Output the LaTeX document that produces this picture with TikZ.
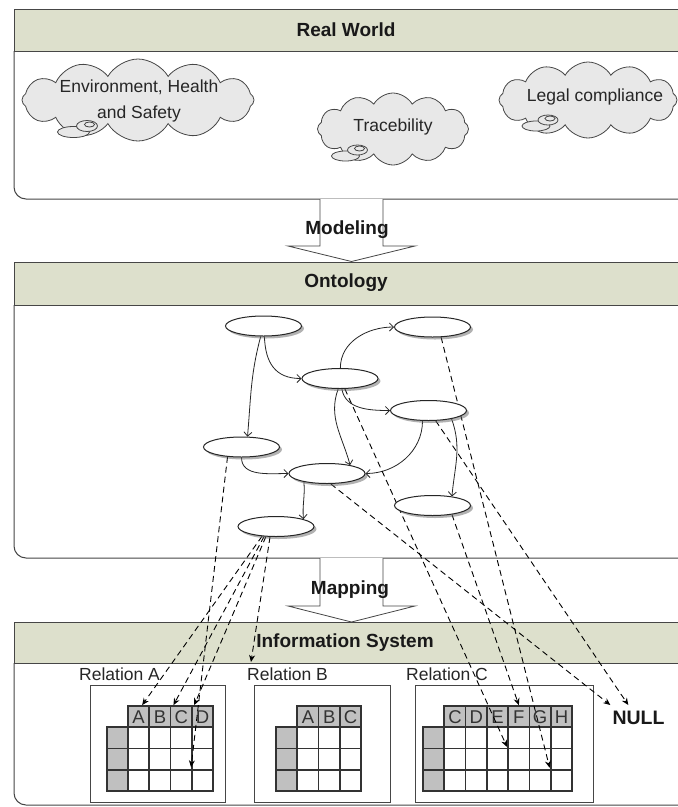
\documentclass[tikz,border=0pt]{standalone}
\usepackage{fontspec}
\setmainfont{Liberation Sans}
\usetikzlibrary{shapes.geometric,shapes.symbols,arrows.meta,shadows}
\definecolor{hdrfill}{RGB}{221,224,204}
\definecolor{frame}{RGB}{70,70,70}
\definecolor{cloudfill}{RGB}{232,232,232}
\definecolor{cellgray}{RGB}{192,192,192}
\pgfdeclarelayer{back}
\pgfdeclarelayer{mid}
\pgfsetlayers{back,mid,main}

\begin{document}
\begin{tikzpicture}[x=1pt,y=-1pt,
  hdr/.style={draw=frame, line width=1pt, fill=hdrfill},
  hdrtext/.style={font=\fontsize{19}{22}\selectfont\bfseries, text=black!90, inner sep=0pt},
  body/.style={draw=frame, line width=1pt, rounded corners=12pt},
  bigarrow/.style={draw=frame, line width=0.8pt, fill=white},
  cloudbox/.style={cloud, cloud puffs=12, cloud puff arc=120, cloud ignores aspect, draw=frame, line width=0.8pt, fill=cloudfill, inner sep=0pt},
  bubble/.style={ellipse, draw=frame, line width=0.8pt, fill=cloudfill, inner sep=0pt},
  txt/.style={font=\fontsize{17.5}{26}\selectfont, text=black!85, inner sep=0pt},
  concept/.style={ellipse, draw=black!85, line width=1pt, fill=white, minimum width=76pt, minimum height=20pt, inner sep=0pt,
    drop shadow={shadow xshift=2.5pt, shadow yshift=-2.5pt, fill=black!60, opacity=.5}},
  rel/.style={draw=black!85, line width=0.8pt, -{Straight Barb[length=4pt,width=8pt]}},
  maps/.style={draw=black, line width=0.9pt, dash pattern=on 6pt off 4pt, -{Stealth[length=7pt,width=6pt]}},
  relbox/.style={draw=frame, line width=1pt, fill=white},
  hcell/.style={draw=black!80, line width=1.7pt, fill=cellgray, minimum size=21.3pt, inner sep=0pt, font=\fontsize{18.5}{20}\selectfont, text=black!80},
  wcell/.style={draw=black!80, line width=1.7pt, fill=white, minimum size=21.3pt, inner sep=0pt},
  gcell/.style={draw=black!80, line width=1.7pt, fill=cellgray, minimum size=21.3pt, inner sep=0pt},
]
\useasboundingbox (0,0) rectangle (678,807);

\begin{pgfonlayer}{back}
  \fill[white] (0,0) rectangle (678,807);

  % Real World panel
  \path[hdr] (14,9) rectangle (692,51);
  \node[hdrtext] (rwTitle) at (346,30) {Real World};
  \draw[body] (14,51) -- (14,199) -- (692,199);

  % clouds
  \node[cloudbox, minimum width=232pt, minimum height=82pt] (cEHS) at (138,100) {};
  \node[bubble, minimum width=32pt, minimum height=11pt] (cEHSa) at (73.5,132) {};
  \node[bubble, minimum width=21pt, minimum height=11pt] (cEHSb) at (87,126) {};
  \node[bubble, minimum width=10pt, minimum height=5pt] (cEHSc) at (89.5,124.5) {};
  \node[txt, align=center] (tEHS) at (139,101) {Environment, Health\\and Safety};

  \node[cloudbox, minimum width=151pt, minimum height=72pt] (cTr) at (393,129) {};
  \node[bubble, minimum width=28pt, minimum height=10pt] (cTra) at (345.5,156) {};
  \node[bubble, minimum width=20pt, minimum height=10pt] (cTrb) at (357.5,150) {};
  \node[bubble, minimum width=10pt, minimum height=5pt] (cTrc) at (359.5,148.5) {};
  \node[txt] (tTr) at (393,127) {Tracebility};

  \node[cloudbox, minimum width=178pt, minimum height=76pt] (cLeg) at (588,100) {};
  \node[bubble, minimum width=28pt, minimum height=10pt] (cLega) at (536,126) {};
  \node[bubble, minimum width=20pt, minimum height=10pt] (cLegb) at (548,120) {};
  \node[bubble, minimum width=10pt, minimum height=5pt] (cLegc) at (550,118.5) {};
  \node[txt] (tLeg) at (595,97) {Legal compliance};

  % Modeling arrow
  \draw[bigarrow] (320,199) -- (320,246) -- (288,246) -- (351.5,261.5) -- (415,246) -- (383,246) -- (383,199);
  \node[hdrtext] (modLbl) at (347,230) {Modeling};

  % Ontology panel
  \path[hdr] (14,262) rectangle (692,305);
  \node[hdrtext] (onTitle) at (346,283) {Ontology};
  \draw[body] (14,305) -- (14,558) -- (692,558);

  % Mapping arrow
  \draw[bigarrow] (320,558) -- (320,606) -- (288,606) -- (351.5,622) -- (415,606) -- (383,606) -- (383,558);
  \node[hdrtext] (mapLbl) at (350,590) {Mapping};

  % Information System panel
  \path[hdr] (14,622) rectangle (692,663);
  \node[hdrtext] (isTitle) at (345,643) {Information System};
  \draw[body] (14,663) -- (14,805) -- (692,805);

  % relation frames and labels
  \path[relbox] (90,685) rectangle (225,802);
  \path[relbox] (254,685) rectangle (390,802);
  \path[relbox] (415,685) rectangle (593,802);
  \node[txt, anchor=base west] (lblA) at (79,680) {Relation A};
  \node[txt, anchor=base west] (lblB) at (247,680) {Relation B};
  \node[txt, anchor=base west] (lblC) at (406,680) {Relation C};
  \coordinate (relBtip) at (251,662);
  \node[font=\fontsize{19.5}{22}\selectfont\bfseries, text=black!90, inner sep=0pt] (null) at (638.5,718) {NULL};

  % Relation A table
  \foreach \r in {0,1,2} {
    \node[gcell] (ra-g\r) at (117.35,737.95+21.3*\r) {};
    \foreach \i in {0,...,3} \node[wcell] (ra-\r-\i) at (138.65+21.3*\i,737.95+21.3*\r) {};
  }
  \foreach \l [count=\i from 0] in {A,B,C,D}
    \node[hcell] (ra-\l) at (138.65+21.3*\i,716.65) {\l};

  % Relation B table
  \foreach \r in {0,1,2} {
    \node[gcell] (rb-g\r) at (286.65,737.95+21.3*\r) {};
    \foreach \i in {0,...,2} \node[wcell] (rb-\r-\i) at (307.95+21.3*\i,737.95+21.3*\r) {};
  }
  \foreach \l [count=\i from 0] in {A,B,C}
    \node[hcell] (rb-\l) at (307.95+21.3*\i,716.65) {\l};

  % Relation C table
  \foreach \r in {0,1,2} {
    \node[gcell] (rc-g\r) at (433.65,737.95+21.3*\r) {};
    \foreach \i in {0,...,5} \node[wcell] (rc-\r-\i) at (454.95+21.3*\i,737.95+21.3*\r) {};
  }
  \foreach \l [count=\i from 0] in {C,D,E,F,G,H}
    \node[hcell] (rc-\l) at (454.95+21.3*\i,716.65) {\l};
\end{pgfonlayer}

% ontology concepts
\node[concept] (E1) at (263.5,326) {};
\node[concept] (E2) at (432.5,327) {};
\node[concept] (E3) at (340,378.5) {};
\node[concept] (E4) at (428.5,410.5) {};
\node[concept] (E5) at (241.5,447) {};
\node[concept] (E6) at (327,473.5) {};
\node[concept] (E7) at (432.5,505.5) {};
\node[concept] (E8) at (276,526.5) {};

\begin{pgfonlayer}{mid}
  % relations between concepts
  \draw[rel] (E1.-105) to[out=-105, in=85] (E5.60);
  \draw[rel] (E1.-85) to[out=-88, in=180, looseness=1.2] (E3.west);
  \draw[rel] (E3.88) to[out=90, in=180] (E2.west);
  \draw[rel] (E3.-80) to[out=-80, in=180] (E4.west);
  \draw[rel] (E3.-100) to[out=-110, in=105] (E6.20);
  \draw[rel] (E4.-120) to[out=-90, in=0] (E6.east);
  \draw[rel] (E4.-20) to[out=-70, in=85] (E7.25);
  \draw[rel] (E5.-90) to[out=-90, in=180] (E6.west);
  \draw[rel] (E6.-160) to[out=-85, in=95] (E8.15);

  % mappings onto the relations
  \draw[maps] (E8.-145) -- ([xshift=3.5pt]ra-A.north);
  \draw[maps] (E8.-140) -- ([xshift=2pt]ra-B.north east);
  \draw[maps] (E8.-135) -- ([xshift=1.5pt]ra-C.north east);
  \draw[maps] (E5.-145) -- ([yshift=-8pt]ra-1-3.west);
  \draw[maps] (E8.-120) -- (relBtip);
  \draw[maps] (E3.-65) -- ([xshift=-2pt,yshift=2.5pt]rc-0-2.south east);
  \draw[maps] (E7.-25) -- (rc-F.north);
  \draw[maps] (E2.-50) -- ([xshift=-2pt,yshift=3pt]rc-1-4.south east);
  \draw[maps] (E6.-70) -- ([xshift=-2pt,yshift=6pt]null.north west);
  \draw[maps] (E4.-55) -- ([xshift=16pt,yshift=6pt]null.north west);
\end{pgfonlayer}
\end{tikzpicture}
\end{document}
